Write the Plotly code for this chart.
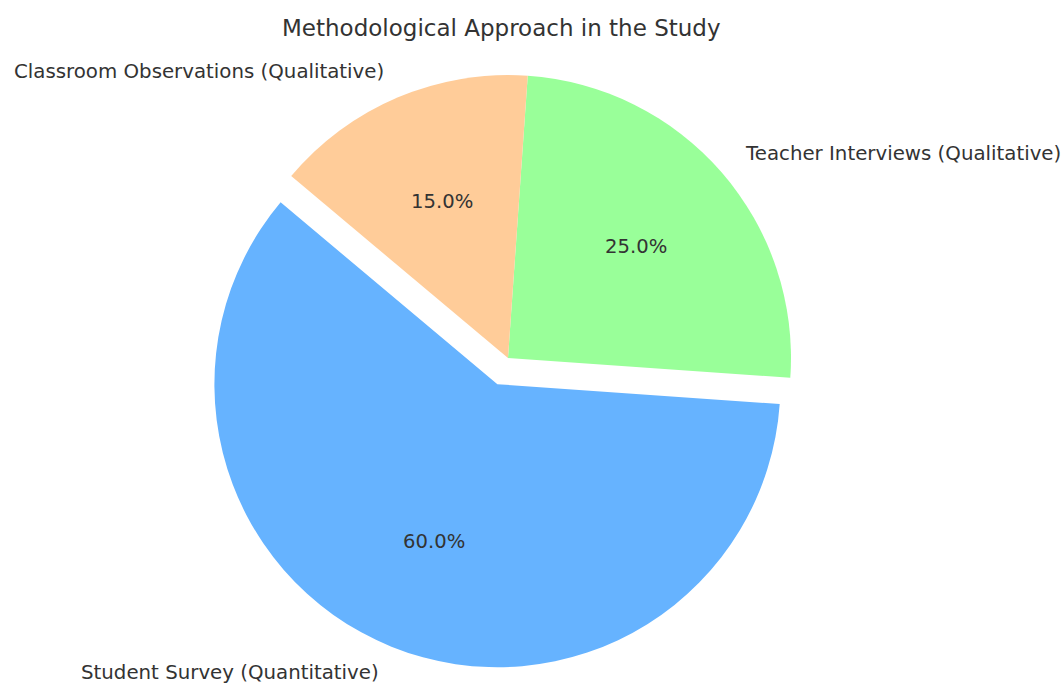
import numpy as np
import plotly.graph_objects as go

labels = ["Student Survey (Quantitative)", "Teacher Interviews (Qualitative)",
          "Classroom Observations (Qualitative)"]
values = [60, 25, 15]
colors = ["#66b3ff", "#99ff99", "#ffcc99"]
explode = [0.1, 0.0, 0.0]
start_angle = 140  # degrees, counter-clockwise from 3 o'clock
title = "Methodological Approach in the Study"

W, H = 1061, 684
cx, cy, r = 508.0, 358.0, 283.0  # pixel centre and radius of the pie
text_color = "#333333"
font = "DejaVu Sans"

max_pull = max(explode)
half_box = r * (1 + max_pull)
domain_x = [(cx - half_box) / W, (cx + half_box) / W]
domain_y = [1 - (cy + half_box) / H, 1 - (cy - half_box) / H]

vals = np.array(values, dtype=float)
fracs = vals / vals.sum()
spans = fracs * 360.0
starts = start_angle + np.concatenate([[0], np.cumsum(spans)[:-1]])
mids = np.radians(starts + spans / 2)

# plotly: counterclockwise, first slice's ccw-most edge is at `rotation` (clockwise from 12 o'clock)
end_first = start_angle + spans[0]
rotation = (90 - end_first) % 360
if rotation > 180:
    rotation -= 360

fig = go.Figure(go.Pie(
    labels=labels, values=values, sort=False, direction="counterclockwise",
    rotation=rotation, pull=explode, textinfo="none", hoverinfo="label+percent",
    marker=dict(colors=colors, line=dict(width=0)),
    domain=dict(x=domain_x, y=domain_y), showlegend=False,
))

annotations = []
for lab, f, m, ex in zip(labels, fracs, mids, explode):
    ox = cx + ex * r * np.cos(m)
    oy = cy - ex * r * np.sin(m)
    # percentage at 0.6 r
    px = ox + 0.6 * r * np.cos(m)
    py = oy - 0.6 * r * np.sin(m)
    annotations.append(dict(x=px / W, y=1 - py / H, xref="paper", yref="paper",
                            text=f"{f*100:.1f}%", showarrow=False,
                            xanchor="center", yanchor="middle",
                            font=dict(family=font, size=19.6, color=text_color)))
    lx = ox + 1.1 * r * np.cos(m)
    ly = oy - 1.1 * r * np.sin(m)
    annotations.append(dict(x=lx / W, y=1 - ly / H, xref="paper", yref="paper",
                            text=lab, showarrow=False,
                            xanchor="left" if np.cos(m) > 0 else "right",
                            yanchor="middle",
                            font=dict(family=font, size=19.8, color=text_color)))

annotations.append(dict(x=501 / W, y=1 - 28 / H, xref="paper", yref="paper",
                        text=title, showarrow=False, xanchor="center", yanchor="middle",
                        font=dict(family=font, size=23, color=text_color)))

fig.update_layout(
    width=W, height=H, margin=dict(l=0, r=0, t=0, b=0),
    paper_bgcolor="white", plot_bgcolor="white",
    annotations=annotations,
)

fig.write_html("out.html")
